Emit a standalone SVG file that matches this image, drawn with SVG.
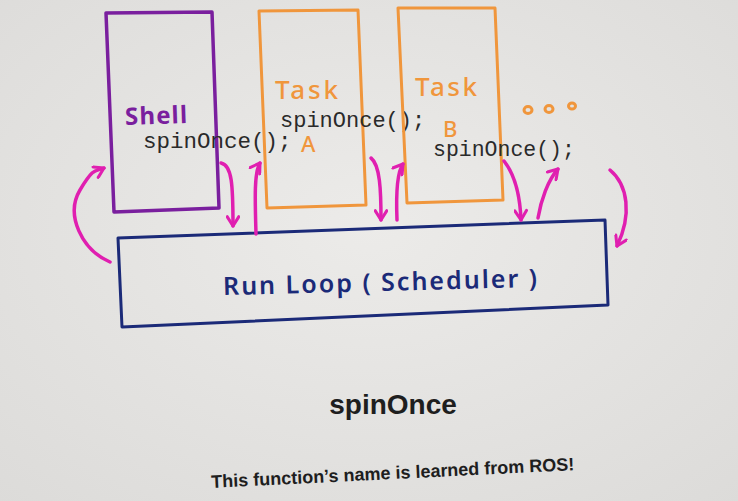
<svg xmlns="http://www.w3.org/2000/svg" width="738" height="501" viewBox="0 0 738 501">
<defs>
<radialGradient id="bg" cx="0.5" cy="0.45" r="0.75">
<stop offset="0" stop-color="#ecebe9"/>
<stop offset="1" stop-color="#dcdbd9"/>
</radialGradient>
<marker id="ah" viewBox="0 0 12 12" refX="10" refY="6" markerWidth="14" markerHeight="14" markerUnits="userSpaceOnUse" orient="auto">
<path d="M2,1 L10,6 L2,11" fill="none" stroke="#e01fb0" stroke-width="2.6" stroke-linecap="round" stroke-linejoin="round"/>
</marker>
<style>
.box{fill:none;stroke-linejoin:round}
.shell{stroke:#7a1f9e;stroke-width:3.5}
.task{stroke:#f0963c;stroke-width:3}
.loop{stroke:#1b2a78;stroke-width:3}
.hand{font-family:"Noto Sans","DejaVu Sans",sans-serif;font-weight:700}
.mono{font-family:"Liberation Mono","Courier New",monospace;fill:#2a2a2a}
.arr{fill:none;stroke:#e01fb0;stroke-width:3.5;stroke-linecap:round;marker-end:url(#ah)}
.dot{fill:none;stroke:#f0963c;stroke-width:3}
</style>
</defs>
<rect width="738" height="501" fill="url(#bg)"/>
<g id="shell">
<polygon class="box shell" points="106,13 212,12 219,208 114,212"/>
<text class="hand" x="125" y="124" font-size="24" fill="#7a1f9e" textLength="62" transform="rotate(-2 155 115)">Shell</text>
<text class="mono" x="143" y="148" font-size="22.5">spinOnce();</text>
</g>
<g id="taskA">
<polygon class="box task" points="259,11 358,10 366,205 267,208"/>
<text class="hand" x="275" y="99" font-size="26" fill="#f0963c" textLength="63" style="font-weight:500">Task</text>
<text class="mono" x="280" y="127" font-size="22">spinOnce();</text>
<text class="hand" x="301" y="152" font-size="22" fill="#f0963c" style="font-weight:500">A</text>
</g>
<g id="taskB">
<polygon class="box task" points="398,8 495,8 503,200 407,203"/>
<text class="hand" x="415" y="96" font-size="26" fill="#f0963c" textLength="62" style="font-weight:500">Task</text>
<text class="hand" x="443" y="137" font-size="22" fill="#f0963c" style="font-weight:500">B</text>
<text class="mono" x="433" y="156" font-size="21.5">spinOnce();</text>
</g>
<g id="more">
<ellipse class="dot" cx="528" cy="110" rx="4" ry="3.5"/>
<ellipse class="dot" cx="549" cy="109" rx="4" ry="3.5"/>
<ellipse class="dot" cx="572" cy="106" rx="3.5" ry="3"/>
</g>
<g id="runloop">
<polygon class="box loop" points="118,238 605,220 608,305 122,327"/>
<text class="hand" x="380" y="291" font-size="25" fill="#1b2a78" text-anchor="middle" textLength="314" transform="rotate(-1.5 380 282)" style="font-weight:600">Run Loop ( Scheduler )</text>
</g>
<g id="connectors">
<path class="arr" d="M110,262 C82,250 65,215 80,190 S96,172 104,168"/>
<path class="arr" d="M221,163 C232,165 233,185 233,226"/>
<path class="arr" d="M256,234 C255,200 254,172 260,163"/>
<path class="arr" d="M371,158 C380,165 381,190 381,220"/>
<path class="arr" d="M397,220 C396,195 397,172 403,164"/>
<path class="arr" d="M504,161 C515,175 520,195 521,220"/>
<path class="arr" d="M538,218 C541,200 548,180 558,169"/>
<path class="arr" d="M610,170 C628,185 632,215 617,246"/>
</g>
<g id="caption">
<text x="393" y="414" font-family="Liberation Sans, Arial, sans-serif" font-weight="700" font-size="28" fill="#1e1e1e" text-anchor="middle">spinOnce</text>
<text x="393" y="479" font-family="Liberation Sans, Arial, sans-serif" font-weight="700" font-size="18" fill="#1e1e1e" text-anchor="middle" transform="rotate(-2.8 393 479)">This function’s name is learned from ROS!</text>
</g>
</svg>
